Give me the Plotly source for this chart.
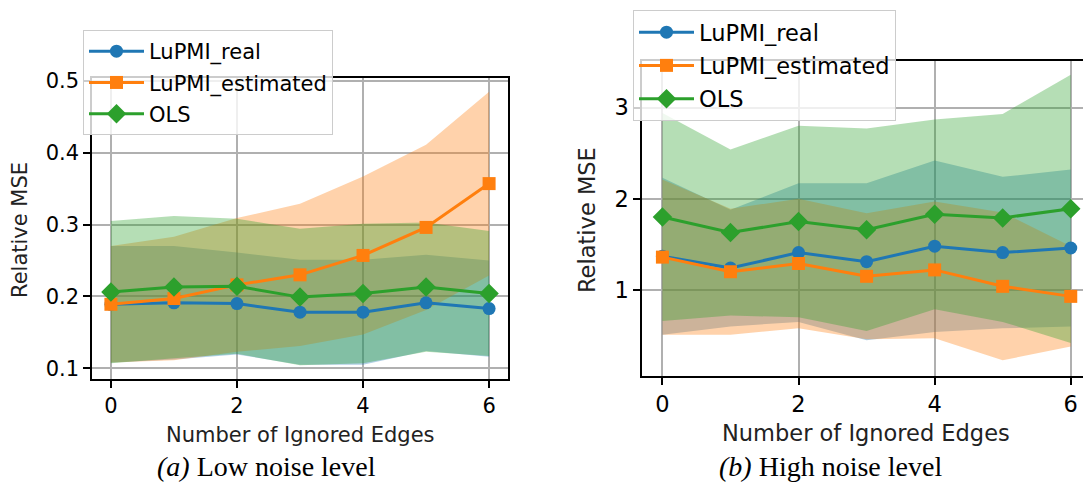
import plotly.graph_objects as go

W, H = 1083, 500

edges = [0, 1, 2, 3, 4, 5, 6]
series_names = ["LuPMI_real", "LuPMI_estimated", "OLS"]

# (a) Low noise level
real_mean_a = [0.189, 0.191, 0.190, 0.178, 0.178, 0.191, 0.183]
real_std_a = [0.081, 0.079, 0.071, 0.073, 0.073, 0.067, 0.067]
est_mean_a = [0.189, 0.197, 0.216, 0.230, 0.257, 0.296, 0.357]
est_std_a = [0.081, 0.086, 0.093, 0.099, 0.110, 0.115, 0.128]
ols_mean_a = [0.206, 0.213, 0.214, 0.199, 0.204, 0.213, 0.204]
ols_std_a = [0.099, 0.099, 0.094, 0.095, 0.097, 0.090, 0.087]

# (b) High noise level
real_mean_b = [1.37, 1.24, 1.41, 1.31, 1.48, 1.41, 1.46]
real_std_b = [0.86, 0.64, 0.76, 0.86, 0.94, 0.83, 0.86]
est_mean_b = [1.36, 1.20, 1.29, 1.15, 1.22, 1.04, 0.93]
est_std_b = [0.85, 0.69, 0.71, 0.69, 0.75, 0.81, 0.55]
ols_mean_b = [1.80, 1.63, 1.75, 1.66, 1.83, 1.79, 1.89]
ols_std_b = [1.14, 0.91, 1.05, 1.11, 1.04, 1.14, 1.47]

yticks_a = [0.1, 0.2, 0.3, 0.4, 0.5]
yticks_b = [1, 2, 3]
xticks = [0, 2, 4, 6]

colors = ["#1f77b4", "#ff7f0e", "#2ca02c"]
fills = ["rgba(31,119,180,0.35)", "rgba(255,127,14,0.35)", "rgba(44,160,44,0.35)"]
symbols = ["circle", "square", "diamond"]
msizes = [13, 13, 15]

FONT = "DejaVu Sans"

fig = go.Figure()


def add_panel(means, stds, xa, ya, legend, tag):
    # fills first
    for i, (m, s) in enumerate(zip(means, stds)):
        up = [a + b for a, b in zip(m, s)]
        lo = [a - b for a, b in zip(m, s)]
        fig.add_trace(go.Scatter(
            x=edges + edges[::-1], y=up + lo[::-1], fill="toself",
            fillcolor=fills[i], line=dict(width=0), mode="lines",
            hoverinfo="skip", showlegend=False, xaxis=xa, yaxis=ya))
    for i, m in enumerate(means):
        fig.add_trace(go.Scatter(
            x=edges, y=m, mode="lines+markers", name=series_names[i],
            line=dict(color=colors[i], width=3),
            marker=dict(symbol=symbols[i], size=msizes[i], color=colors[i], line=dict(width=0)),
            xaxis=xa, yaxis=ya, legend=legend, showlegend=True,
            legendgroup=f"{tag}{i}"))


add_panel([real_mean_a, est_mean_a, ols_mean_a], [real_std_a, est_std_a, ols_std_a], "x", "y", "legend", "a")
add_panel([real_mean_b, est_mean_b, ols_mean_b], [real_std_b, est_std_b, ols_std_b], "x2", "y2", "legend2", "b")

fs_a, fs_b = 21, 22.5

axis_common = dict(showgrid=True, gridcolor="#b0b0b0", gridwidth=1.5, zeroline=False,
                   ticks="outside", ticklen=7, tickwidth=1.5, tickcolor="black",
                   showline=True, linecolor="black", linewidth=1.5, automargin=False)

fig.update_layout(
    width=W, height=H, margin=dict(l=0, r=0, t=0, b=0, autoexpand=False),
    paper_bgcolor="white", plot_bgcolor="white",
    font=dict(family=FONT, color="black"),
    xaxis=dict(domain=[92 / W, 508 / W], range=[-0.3, 6.3], tickvals=xticks,
               mirror=True, anchor="y", tickfont=dict(size=fs_a), **axis_common),
    yaxis=dict(domain=[1 - 379 / H, 1 - 78 / H], range=[0.085, 0.504], tickvals=yticks_a,
               ticktext=[f"{v:.1f}" for v in yticks_a],
               mirror=True, anchor="x", tickfont=dict(size=fs_a), **axis_common),
    xaxis2=dict(domain=[642 / W, 1.0], range=[-0.3, 6.18], tickvals=xticks,
                mirror=True, anchor="y2", tickfont=dict(size=fs_b), **axis_common),
    yaxis2=dict(domain=[1 - 376 / H, 1 - 61 / H], range=[0.057, 3.51], tickvals=yticks_b,
                mirror=False, anchor="x2", tickfont=dict(size=fs_b), **axis_common),
    legend=dict(x=83 / W, y=1 - 30 / H, xanchor="left", yanchor="top",
                bgcolor="rgba(255,255,255,0.8)", bordercolor="#cccccc", borderwidth=1,
                font=dict(size=fs_a, family=FONT), itemwidth=55, tracegroupgap=1),
    legend2=dict(x=633 / W, y=1 - 10 / H, xanchor="left", yanchor="top",
                 bgcolor="rgba(255,255,255,0.8)", bordercolor="#cccccc", borderwidth=1,
                 font=dict(size=fs_b, family=FONT), itemwidth=55, tracegroupgap=1),
)

annos = [
    dict(text="Number of Ignored Edges", x=300 / W, y=1 - 435 / H, size=fs_a, angle=0),
    dict(text="Relative MSE", x=20 / W, y=1 - 230 / H, size=fs_a, angle=-90),
    dict(text="Number of Ignored Edges", x=866 / W, y=1 - 433 / H, size=fs_b, angle=0),
    dict(text="Relative MSE", x=587 / W, y=1 - 220 / H, size=fs_b, angle=-90),
]
for a in annos:
    fig.add_annotation(text=a["text"], x=a["x"], y=a["y"], xref="paper", yref="paper",
                       showarrow=False, textangle=a["angle"], xanchor="center", yanchor="middle",
                       font=dict(size=a["size"], family=FONT, color="#222222"))

captions = [("<i>(a)</i> Low noise level", 266), ("<i>(b)</i> High noise level", 830)]
for txt, cx in captions:
    fig.add_annotation(text=txt, x=cx / W, y=1 - 466 / H, xref="paper", yref="paper",
                       showarrow=False, xanchor="center", yanchor="middle",
                       font=dict(size=28, family="Liberation Serif", color="black"))

fig.write_html("out.html", config={"displayModeBar": False},
               post_script="document.body.style.margin='0';")
